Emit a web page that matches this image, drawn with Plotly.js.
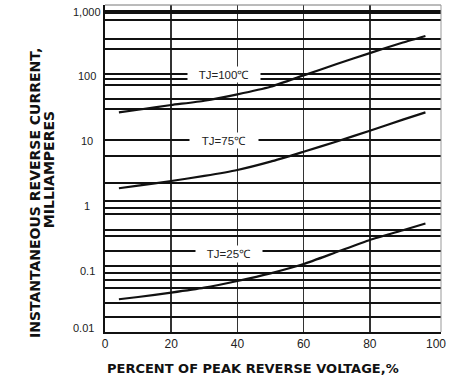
<!DOCTYPE html>
<html>
<head>
<meta charset="utf-8">
<script src="https://cdn.plot.ly/plotly-3.0.1.min.js"></script>
<style>html,body{margin:0;padding:0;background:#fff}#chart{width:453px;height:378px}</style>
</head>
<body>
<div id="chart"></div>
<script>
// Data
var xPct = [4.2, 10, 20, 30, 40, 50, 60, 70, 80, 90, 96.8];
var tj100 = [27.9, 30.6, 36.2, 42.2, 53, 69.5, 104, 156, 230, 335, 423];
var tj75 = [1.87, 2.05, 2.42, 2.9, 3.58, 4.82, 6.87, 9.9, 14.5, 21.5, 27.9];
var tj25 = [0.036, 0.039, 0.0455, 0.0543, 0.069, 0.0906, 0.126, 0.193, 0.296, 0.42, 0.535];
var seriesNames = ["TJ=100\u2103", "TJ=75\u2103", "TJ=25\u2103"];

var xTickVals = [0, 20, 40, 60, 80, 100];
var xTickText = ["0", "20", "40", "60", "80", "100"];
var xGridVals = [20, 40, 60, 80];
var yTickVals = [1000, 100, 10, 1, 0.1];
var yTickText = ["1,000", "100", "10", "1", "0.1"];
var yBottomLabel = "0.01";
var hGridVals = [746, 384, 268, 111, 91.4, 73.8, 44.9, 31.4, 10.6, 6.0, 2.28, 1.19, 0.927, 0.748, 0.424, 0.342, 0.203, 0.119, 0.0906, 0.0714, 0.0532, 0.0318, 0.0189];
var hGridHeavy = [1000];

var xTitle = "PERCENT OF PEAK REVERSE VOLTAGE,%";
var yTitle1 = "INSTANTANEOUS REVERSE CURRENT,";
var yTitle2 = "MILLIAMPERES";

var yRange = [-1.95, 3.105];
var xRange = [0, 101.5];

var lineStyle = {color: "#111", width: 2.2, shape: "spline", smoothing: 0.5};
var traces = [tj100, tj75, tj25].map(function (ys, i) {
  return {x: xPct, y: ys, type: "scatter", mode: "lines", name: seriesNames[i],
          line: lineStyle, hoverinfo: "skip", showlegend: false};
});
// invisible helper traces so overlay grid axes are drawn
traces.push({x: [50], y: [1], xaxis: "x2", yaxis: "y2", mode: "markers", marker: {opacity: 0}, showlegend: false, hoverinfo: "skip"});
traces.push({x: [50], y: [1], xaxis: "x2", yaxis: "y3", mode: "markers", marker: {opacity: 0}, showlegend: false, hoverinfo: "skip"});

var tickFont = {family: "Liberation Sans, Arial, sans-serif", size: 11, color: "#222"};
var annotations = [];
yTickVals.forEach(function (v, i) {
  annotations.push({xref: "paper", x: 0, xshift: -18, xanchor: "center", yref: "y", y: Math.log10(v),
    yanchor: "middle", text: yTickText[i], showarrow: false, font: tickFont});
});
annotations.push({xref: "paper", x: 0, xshift: -22, xanchor: "center", yref: "paper", y: 0, yshift: 4,
  yanchor: "middle", text: yBottomLabel, showarrow: false, font: tickFont});

var labelFont = {family: "Liberation Sans, Arial, sans-serif", size: 11.5, color: "#222"};
var labelPos = [[36, 108, 72, 15], [36, 10.2, 68, 15], [37.6, 0.18, 66, 16]];
labelPos.forEach(function (p, i) {
  annotations.push({x: p[0], y: Math.log10(p[1]), xref: "x", yref: "y", text: seriesNames[i],
    showarrow: false, bgcolor: "#fff", width: p[2], height: p[3], font: labelFont, borderpad: 0});
});

var titleFont = {family: "DejaVu Sans, sans-serif", size: 13, color: "#111", weight: "bold"};
annotations.push({xref: "paper", x: 0.44, yref: "paper", y: 0, yshift: -36, xanchor: "center", yanchor: "middle",
  text: xTitle, showarrow: false, font: titleFont});
var yTitleFont = {family: "DejaVu Sans, sans-serif", size: 14, color: "#111", weight: "bold"};
annotations.push({xref: "paper", x: 0, xshift: -70, yref: "paper", y: 0.425, xanchor: "center", yanchor: "middle",
  text: yTitle1, textangle: -90, showarrow: false, font: yTitleFont});
annotations.push({xref: "paper", x: 0, xshift: -56, yref: "paper", y: 0.495, xanchor: "center", yanchor: "middle",
  text: yTitle2, textangle: -90, showarrow: false, font: yTitleFont});

var layout = {
  width: 453, height: 378,
  margin: {l: 105, r: 12, t: 5, b: 46},
  paper_bgcolor: "#fff", plot_bgcolor: "#fff",
  showlegend: false,
  xaxis: {range: xRange, tickvals: xTickVals, ticktext: xTickText, showgrid: false, zeroline: false,
          showline: true, linecolor: "#111", linewidth: 2, ticks: "", tickfont: {family: "Liberation Sans, Arial, sans-serif", size: 12, color: "#222"}},
  xaxis2: {overlaying: "x", range: xRange, tickvals: xGridVals, showgrid: true, gridcolor: "#333", gridwidth: 1.5,
           showticklabels: false, zeroline: false, ticks: "", showline: false},
  yaxis: {type: "log", range: yRange, showgrid: false, showticklabels: false, zeroline: false,
          showline: true, linecolor: "#111", linewidth: 2, ticks: ""},
  yaxis2: {type: "log", overlaying: "y", range: yRange, tickvals: hGridVals, showgrid: true, gridcolor: "#111",
           gridwidth: 2, showticklabels: false, zeroline: false, ticks: "", showline: false},
  yaxis3: {type: "log", overlaying: "y", range: yRange, tickvals: hGridHeavy, showgrid: true, gridcolor: "#111",
           gridwidth: 4.5, showticklabels: false, zeroline: false, ticks: "", showline: false},
  shapes: [
    {type: "line", xref: "paper", yref: "paper", x0: 0, x1: 1, y0: 1, y1: 1, line: {color: "#777", width: 1}},
    {type: "line", xref: "paper", yref: "paper", x0: 1, x1: 1, y0: 0, y1: 1, line: {color: "#999", width: 1}}
  ],
  annotations: annotations
};

Plotly.newPlot("chart", traces, layout, {staticPlot: true, displayModeBar: false});
</script>
</body>
</html>
